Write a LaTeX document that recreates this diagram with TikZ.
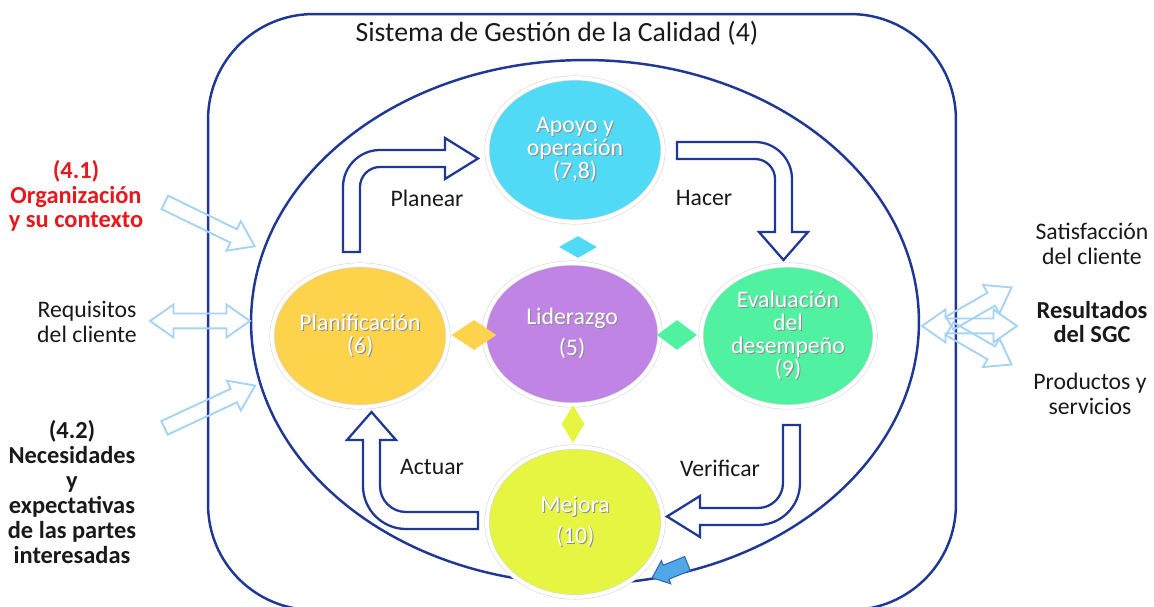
\documentclass[tikz,border=0pt]{standalone}
\usepackage{fontspec}
\setmainfont{Carlito}
\usepackage{tikz}
\usetikzlibrary{positioning}
\usetikzlibrary{shapes.geometric, shapes.arrows}
\definecolor{azul}{RGB}{31, 56, 150}
\definecolor{celeste}{RGB}{166, 212, 242}
\definecolor{cian}{RGB}{80, 218, 245}
\definecolor{amarillo}{RGB}{253, 211, 75}
\definecolor{morado}{RGB}{192, 132, 228}
\definecolor{verde}{RGB}{80, 242, 162}
\definecolor{lima}{RGB}{230, 245, 66}
\definecolor{rojo}{RGB}{230, 25, 30}
\definecolor{flecha}{RGB}{80, 168, 232}
\definecolor{negro}{RGB}{25, 25, 25}

% texto blanco con sombra gris
\newcommand{\sombra}[1]{\leavevmode\rlap{\kern0.6pt\raisebox{-0.6pt}{\textcolor{black!45}{#1}}}#1}

\begin{document}
\begin{tikzpicture}[x=0.02cm, y=-0.02cm,
    circulo/.style={ellipse, draw=black!15, double=white, double distance=2.2pt, line width=0.35pt,
        inner sep=0pt, text=white, align=center, font=\fontsize{13.5}{13}\selectfont},
    rombo/.style={diamond, inner sep=0pt},
    bloque/.style={draw=azul, fill=white, line width=1.3pt, line join=miter},
    clara/.style={single arrow, draw=celeste, line width=1.1pt, inner sep=0.13cm,
        single arrow head extend=0.18cm, single arrow tip angle=70, minimum height=2cm},
    doble/.style={double arrow, draw=celeste, line width=1.1pt, inner sep=0.13cm,
        double arrow head extend=0.18cm, double arrow tip angle=70, minimum height=2cm},
    texto/.style={align=center, text=negro, font=\fontsize{13.5}{14.2}\selectfont}]

    % Tamaño de la figura: 1154 x 607 px
    \useasboundingbox (0,0) rectangle (1154,607);

    % Marco redondeado del sistema
    \node[draw=azul, line width=1.4pt, rounded corners=60pt, minimum width=14.96cm, minimum height=11.92cm] (marco) at (582,312) {};
    \node[texto, font=\fontsize{15.8}{16}\selectfont] (titulo) at (557,33) {Sistema de Gestión de la Calidad (4)};

    % Elipse grande del ciclo
    \node[ellipse, draw=azul, line width=1.4pt, minimum width=13.36cm, minimum height=10.48cm] (ciclo) at (585,322) {};

    % Los cinco círculos
    \node[circulo, fill=cian, minimum width=3.52cm, minimum height=2.88cm] (apoyo) at (575,150) {\sombra{Apoyo y}\\\sombra{operación}\\\sombra{(7,8)}};
    \node[circulo, fill=amarillo, minimum width=3.52cm, minimum height=2.84cm] (planif) at (360,336) {\sombra{Planificación}\\\sombra{(6)}};
    \node[circulo, fill=morado, minimum width=3.52cm, minimum height=2.84cm] (lider) at (572,334) {\sombra{Liderazgo}\\[5pt]\sombra{(5)}};
    \node[circulo, fill=verde, minimum width=3.48cm, minimum height=2.84cm] (evalua) at (788,336) {\sombra{Evaluación}\\\sombra{del}\\\sombra{desempeño}\\\sombra{(9)}};
    \node[circulo, fill=lima, minimum width=3.52cm, minimum height=3.0cm] (mejora) at (575,522) {\sombra{Mejora}\\[5pt]\sombra{(10)}};

    % Rombos alrededor de Liderazgo
    \node[rombo, fill=cian, minimum width=0.76cm, minimum height=0.44cm] (rcian) at (578,247) {};
    \node[rombo, fill=amarillo, minimum width=0.9cm, minimum height=0.6cm] (ramarillo) at (474,335) {};
    \node[rombo, fill=verde, minimum width=0.8cm, minimum height=0.6cm] (rverde) at (677,335) {};
    \node[rombo, fill=lima, minimum width=0.46cm, minimum height=0.76cm] (rlima) at (573,424) {};

    % Flecha Planear
    \draw[bloque] (343,252) -- (343,187) .. controls (343,166.6) and (359.6,150) .. (380,150)
        -- (445,150) -- (445,138) -- (478,158.5) -- (445,179) -- (445,167) -- (380,167)
        .. controls (369,167) and (360,176) .. (360,187) -- (360,252) -- cycle;
    % Flecha Hacer
    \draw[bloque] (677,142) -- (755,142) .. controls (775.4,142) and (792,158.6) .. (792,179)
        -- (792,232) -- (808,232) -- (783.5,260) -- (759,232) -- (775,232) -- (775,179)
        .. controls (775,168) and (766,159) .. (755,159) -- (677,159) -- cycle;
    % Flecha Verificar
    \draw[bloque] (783,425) -- (800,425) -- (800,483) .. controls (800,506.2) and (781.2,525) .. (758,525)
        -- (700,525) -- (700,537) -- (667,516.5) -- (700,496) -- (700,508) -- (758,508)
        .. controls (771.8,508) and (783,496.8) .. (783,483) -- cycle;
    % Flecha Actuar
    \draw[bloque] (478,512) -- (478,529) -- (406,529) .. controls (382.3,529) and (363,509.7) .. (363,486)
        -- (363,440) -- (347,440) -- (371.5,412) -- (396,440) -- (380,440) -- (380,486)
        .. controls (380,500.4) and (391.6,512) .. (406,512) -- cycle;

    % Etiquetas del ciclo
    \node[texto] (planear) at (427,198) {Planear};
    \node[texto] (hacer) at (704,198) {Hacer};
    \node[texto] (actuar) at (432,467) {Actuar};
    \node[texto] (verificar) at (720,468) {Verificar};

    % Punta azul al final de la elipse
    \node[single arrow, fill=flecha, draw=azul!60!flecha, line width=0.6pt, inner sep=0.14cm,
        single arrow head extend=0.1cm, single arrow tip angle=80, minimum height=0.76cm,
        rotate=202] (punta) at (674,569) {};

    % Entradas (izquierda)
    \node[clara, rotate=-26] (e1) at (205,222) {};
    \node[doble] (e2) at (200,321) {};
    \node[clara, rotate=25] (e3) at (205,409) {};
    \node[texto, text=rojo, font=\bfseries\fontsize{13.9}{14}\selectfont] (contexto) at (76,196) {(4.1)\\Organización\\y su contexto};
    \node[texto] (requisitos) at (87,322) {Requisitos\\del cliente};
    \node[texto, font=\bfseries\fontsize{13.9}{14.2}\selectfont] (partes) at (72,492) {(4.2)\\Necesidades\\y\\expectativas\\de las partes\\interesadas};

    % Salidas (derecha)
    \node[doble, minimum height=1.9cm] (s2) at (969.5,326) {};
    \node[clara, minimum height=1.43cm, rotate=30] (s1) at (976,308) {};
    \node[clara, minimum height=1.43cm, rotate=-30] (s3) at (976,344) {};
    \node[texto] (satisf) at (1092,244) {Satisfacción\\del cliente};
    \node[texto, font=\bfseries\fontsize{13.9}{14}\selectfont] (result) at (1092,322) {Resultados\\del SGC};
    \node[texto] (product) at (1090,394) {Productos y\\servicios};

\end{tikzpicture}
\end{document}
